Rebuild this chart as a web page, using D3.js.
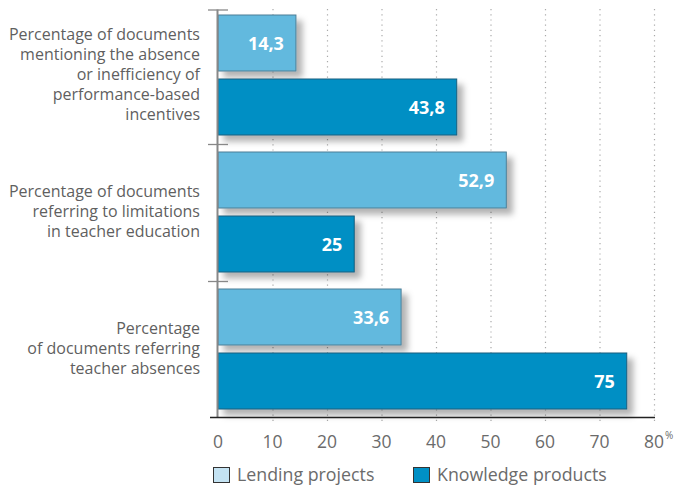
<!DOCTYPE html>
<html><head><meta charset="utf-8">
<script src="https://cdn.jsdelivr.net/npm/d3@7"></script>
<style>body{margin:0;background:#fff;} svg{display:block;}</style>
</head><body>
<script>
const categories = [
  ["Percentage of documents","mentioning the absence","or inefficiency of","performance-based","incentives"],
  ["Percentage of documents","referring to limitations","in teacher education"],
  ["Percentage","of documents referring","teacher absences"]
];
const seriesNames = ["Lending projects","Knowledge products"];
const lendingValues = [14.3, 52.9, 33.6];
const knowledgeValues = [43.8, 25, 75];
const xTicks = [0,10,20,30,40,50,60,70,80];

const W = 677, H = 490;
const svg = d3.select("body").append("svg").attr("width", W).attr("height", H);
const defs = svg.append("defs");
const f = defs.append("filter").attr("id","sh").attr("x","-10%").attr("y","-20%").attr("width","130%").attr("height","160%");
f.append("feDropShadow").attr("dx",6).attr("dy",6).attr("stdDeviation",3).attr("flood-color","#000").attr("flood-opacity",0.3);

const x = d3.scaleLinear().domain([0,80]).range([218,654]);
const idx = d3.range(categories.length);
const y0 = d3.scaleBand().domain(idx).range([7,418]);
const y1 = d3.scaleBand().domain(seriesNames).range([8,128]).paddingInner(0.125);
const fill = {"Lending projects":"#62b9de","Knowledge products":"#008fc4"};
const stroke = {"Lending projects":"#4d7f96","Knowledge products":"#1b5f7e"};
const legendFill = {"Lending projects":"#c4e3f3","Knowledge products":"#0090c5"};

// gridlines
svg.append("g").selectAll("line").data(xTicks.filter(d=>d>0)).join("line")
  .attr("x1",d=>x(d)+0.5).attr("x2",d=>x(d)+0.5).attr("y1",9).attr("y2",422)
  .attr("stroke","#aaa").attr("stroke-width",1.2).attr("stroke-dasharray","1.2,4");

// bars
const data = idx.map(i=>[
  {cat:i, s:seriesNames[0], v:lendingValues[i]},
  {cat:i, s:seriesNames[1], v:knowledgeValues[i]}
]).flat();
const bars = svg.append("g").selectAll("g").data(data).join("g")
  .attr("transform",d=>`translate(0,${y0(d.cat)+y1(d.s)})`);
bars.append("rect").attr("x",x(0)).attr("y",0)
  .attr("width",d=>x(d.v)-x(0)).attr("height",y1.bandwidth())
  .attr("fill",d=>fill[d.s]).attr("stroke",d=>stroke[d.s]).attr("stroke-width",1)
  .attr("filter","url(#sh)");
bars.append("text").attr("x",d=>x(d.v)-12).attr("y",y1.bandwidth()/2+6.5)
  .attr("text-anchor","end").attr("fill","#fff").attr("font-family","Open Sans, sans-serif")
  .attr("font-weight","bold").attr("font-size",18)
  .text(d=>String(d.v).replace(".",","));

// y axis
svg.append("line").attr("x1",217.5).attr("x2",217.5).attr("y1",9.5).attr("y2",418)
  .attr("stroke","#888").attr("stroke-width",2);
const bounds = idx.map(i=>y0(i));
svg.append("g").selectAll("line").data(bounds).join("line")
  .attr("x1",208).attr("x2",228).attr("y1",d=>Math.max(d,9.5)+0.5).attr("y2",d=>Math.max(d,9.5)+0.5)
  .attr("stroke","#888").attr("stroke-width",1.3);
// bottom axis
svg.append("line").attr("x1",210).attr("x2",655).attr("y1",417.5).attr("y2",417.5)
  .attr("stroke","#222").attr("stroke-width",1.5);

// x tick labels
svg.append("g").selectAll("text").data(xTicks).join("text")
  .attr("x",d=>x(d)).attr("y",448).attr("text-anchor","middle")
  .attr("fill","#6b6b6b").attr("font-family","Open Sans, sans-serif").attr("font-size",17.5)
  .text(d=>d);
svg.append("text").attr("x",x(80)+11).attr("y",439).attr("fill","#6b6b6b")
  .attr("font-family","Open Sans, sans-serif").attr("font-size",10).text("%");

// category labels
const lh = 20;
const cl = svg.append("g").selectAll("text").data(idx).join("text")
  .attr("text-anchor","end").attr("fill","#5f5f5f")
  .attr("font-family","Open Sans, sans-serif").attr("font-size",16);
cl.each(function(i){
  const lines = categories[i];
  const cy = y0(i)+y0.bandwidth()/2 - 1;
  const top = cy - (lines.length-1)*lh/2 + 5.5;
  d3.select(this).selectAll("tspan").data(lines).join("tspan")
    .attr("x",200).attr("y",(d,j)=>top+j*lh).text(d=>d);
});

// legend
const lx = [213, 413];
const lg = svg.append("g").selectAll("g").data(seriesNames).join("g")
  .attr("transform",(d,i)=>`translate(${lx[i]},467)`);
lg.append("rect").attr("x",0.5).attr("y",0.5).attr("width",16).attr("height",15)
  .attr("fill",d=>legendFill[d]).attr("stroke","#333").attr("stroke-width",1);
lg.append("text").attr("x",24).attr("y",14).attr("fill","#6b6b6b")
  .attr("font-family","Open Sans, sans-serif").attr("font-size",17.8).text(d=>d);
</script>
</body></html>
